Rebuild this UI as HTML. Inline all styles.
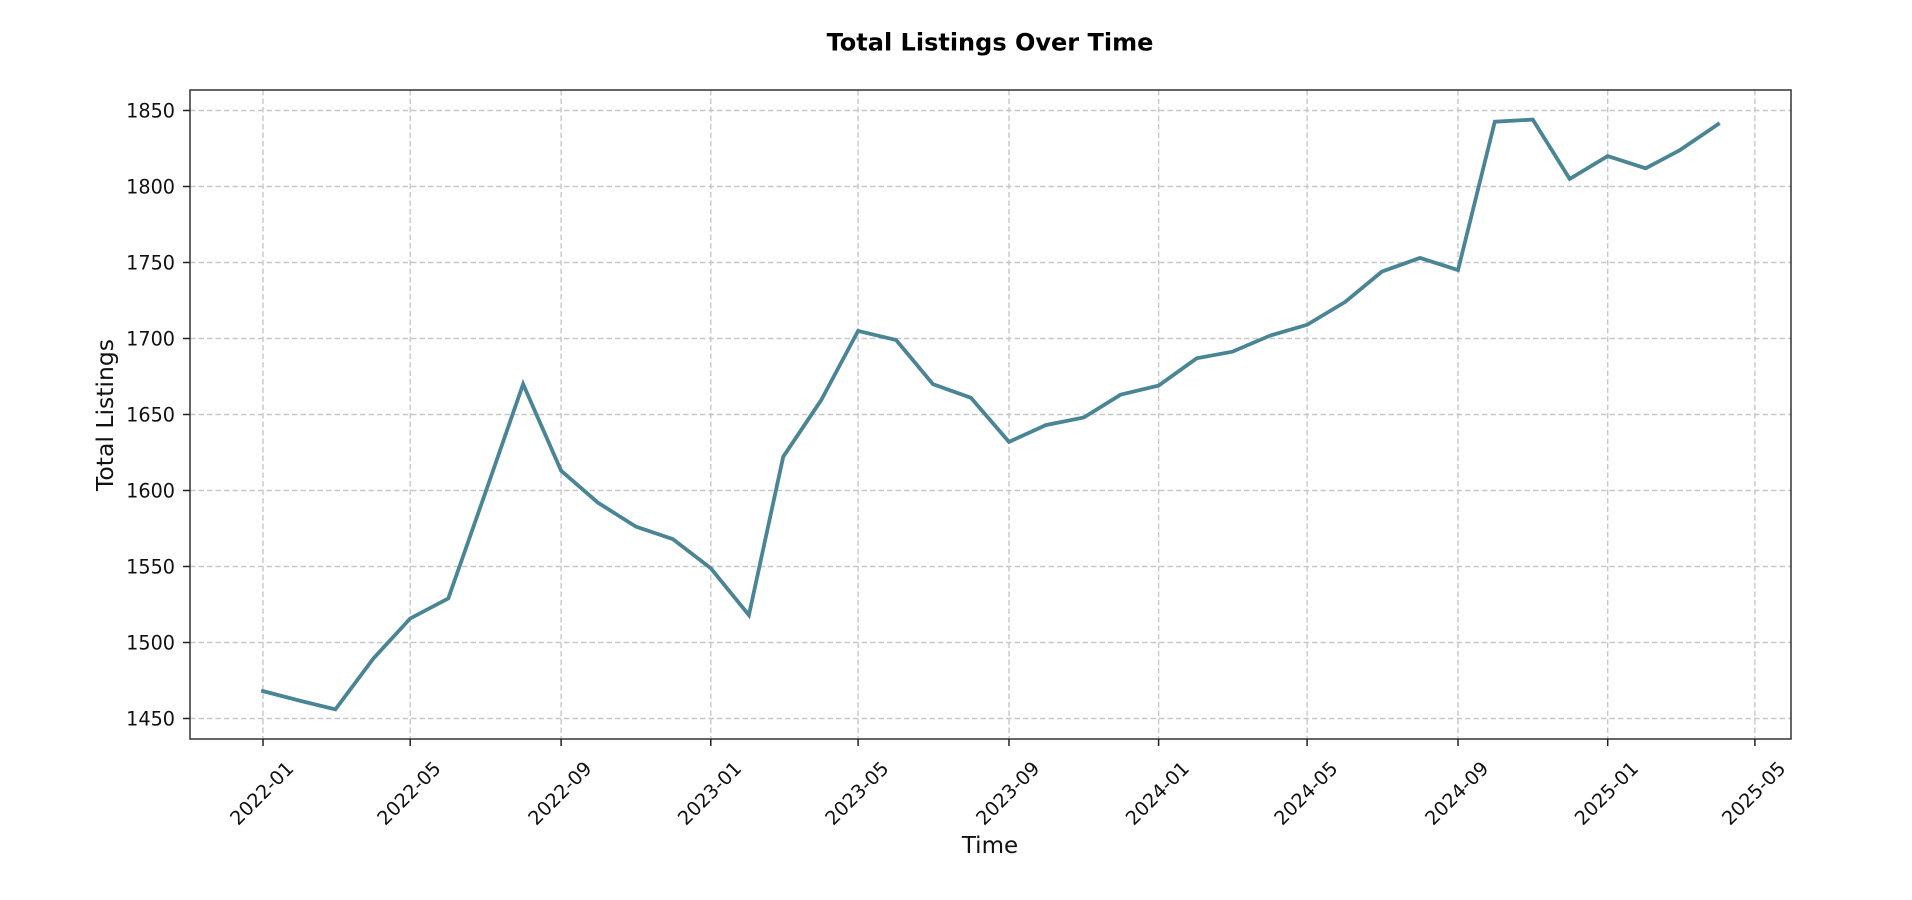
<!DOCTYPE html>
<html><head><meta charset="utf-8"><style>
html,body{margin:0;padding:0;background:#fff;}
svg{display:block;}
text{font-family:"DejaVu Sans","Liberation Sans",sans-serif;fill:#111;}
</style></head><body>
<svg width="1912" height="900" viewBox="0 0 1912 900" xmlns="http://www.w3.org/2000/svg">
<rect x="0" y="0" width="1912" height="900" fill="#fff"/>
<text x="990" y="50.5" font-size="24" font-weight="bold" text-anchor="middle" style="fill:#000">Total Listings Over Time</text>
<g stroke="#c8c8c8" stroke-width="1.4" stroke-dasharray="5.5,3" fill="none">
<line x1="190" x2="1791" y1="718.5" y2="718.5"/>
<line x1="190" x2="1791" y1="642.5" y2="642.5"/>
<line x1="190" x2="1791" y1="566.5" y2="566.5"/>
<line x1="190" x2="1791" y1="490.5" y2="490.5"/>
<line x1="190" x2="1791" y1="414.5" y2="414.5"/>
<line x1="190" x2="1791" y1="338.5" y2="338.5"/>
<line x1="190" x2="1791" y1="262.5" y2="262.5"/>
<line x1="190" x2="1791" y1="186.5" y2="186.5"/>
<line x1="190" x2="1791" y1="110.5" y2="110.5"/>
<line y1="90" y2="739" x1="263" x2="263"/>
<line y1="90" y2="739" x1="410.2" x2="410.2"/>
<line y1="90" y2="739" x1="561.1" x2="561.1"/>
<line y1="90" y2="739" x1="710.8" x2="710.8"/>
<line y1="90" y2="739" x1="858.1" x2="858.1"/>
<line y1="90" y2="739" x1="1009" x2="1009"/>
<line y1="90" y2="739" x1="1158.6" x2="1158.6"/>
<line y1="90" y2="739" x1="1307.1" x2="1307.1"/>
<line y1="90" y2="739" x1="1458" x2="1458"/>
<line y1="90" y2="739" x1="1607.7" x2="1607.7"/>
<line y1="90" y2="739" x1="1754.9" x2="1754.9"/>
</g>
<polyline fill="none" stroke="#4a8596" stroke-width="3.8" stroke-linejoin="miter" stroke-linecap="square" points="
263,691.1 301,701 335.4,709.4 373.4,658.5 410.2,618.5 448.3,598.4 485.1,493.5 523.1,384.1 561.1,470.7 598,502.7 636,526.7 672.8,539.1
710.8,568.3 748.9,615.1 783.2,456.8 821.2,400.1 858.1,330.9 896.1,340 932.9,384.1 970.9,397.8 1009,441.9 1045.8,425.1 1083.8,417.5 1120.6,394.7
1158.6,385.6 1196.7,358.3 1232.3,351.7 1270.3,335.5 1307.1,324.8 1345.1,302 1381.9,271.6 1420,257.9 1458,270.1 1494.8,121.7 1532.8,119.6 1569.7,178.9
1607.7,156.1 1645.7,168.3 1680.1,150 1718.1,124.2"/>
<rect x="190" y="90" width="1601" height="649" fill="none" stroke="#333" stroke-width="1.5"/>
<g stroke="#222" stroke-width="1.5">
<line x1="183" x2="190" y1="718.5" y2="718.5"/>
<line x1="183" x2="190" y1="642.5" y2="642.5"/>
<line x1="183" x2="190" y1="566.5" y2="566.5"/>
<line x1="183" x2="190" y1="490.5" y2="490.5"/>
<line x1="183" x2="190" y1="414.5" y2="414.5"/>
<line x1="183" x2="190" y1="338.5" y2="338.5"/>
<line x1="183" x2="190" y1="262.5" y2="262.5"/>
<line x1="183" x2="190" y1="186.5" y2="186.5"/>
<line x1="183" x2="190" y1="110.5" y2="110.5"/>
<line y1="739" y2="746" x1="263" x2="263"/>
<line y1="739" y2="746" x1="410.2" x2="410.2"/>
<line y1="739" y2="746" x1="561.1" x2="561.1"/>
<line y1="739" y2="746" x1="710.8" x2="710.8"/>
<line y1="739" y2="746" x1="858.1" x2="858.1"/>
<line y1="739" y2="746" x1="1009" x2="1009"/>
<line y1="739" y2="746" x1="1158.6" x2="1158.6"/>
<line y1="739" y2="746" x1="1307.1" x2="1307.1"/>
<line y1="739" y2="746" x1="1458" x2="1458"/>
<line y1="739" y2="746" x1="1607.7" x2="1607.7"/>
<line y1="739" y2="746" x1="1754.9" x2="1754.9"/>
</g>
<g font-size="19.2" text-anchor="end">
<text x="175" y="725.5">1450</text>
<text x="175" y="649.5">1500</text>
<text x="175" y="573.5">1550</text>
<text x="175" y="497.5">1600</text>
<text x="175" y="421.5">1650</text>
<text x="175" y="345.5">1700</text>
<text x="175" y="269.5">1750</text>
<text x="175" y="193.5">1800</text>
<text x="175" y="117.5">1850</text>
</g>
<g font-size="19.2" text-anchor="middle">
<text transform="translate(261.5,793) rotate(-45)" x="0" y="7">2022-01</text>
<text transform="translate(408.7,793) rotate(-45)" x="0" y="7">2022-05</text>
<text transform="translate(559.6,793) rotate(-45)" x="0" y="7">2022-09</text>
<text transform="translate(709.3,793) rotate(-45)" x="0" y="7">2023-01</text>
<text transform="translate(856.6,793) rotate(-45)" x="0" y="7">2023-05</text>
<text transform="translate(1007.5,793) rotate(-45)" x="0" y="7">2023-09</text>
<text transform="translate(1157.1,793) rotate(-45)" x="0" y="7">2024-01</text>
<text transform="translate(1305.6,793) rotate(-45)" x="0" y="7">2024-05</text>
<text transform="translate(1456.5,793) rotate(-45)" x="0" y="7">2024-09</text>
<text transform="translate(1606.2,793) rotate(-45)" x="0" y="7">2025-01</text>
<text transform="translate(1753.4,793) rotate(-45)" x="0" y="7">2025-05</text>
</g>
<text x="990" y="853" font-size="23" text-anchor="middle">Time</text>
<text transform="translate(113,415) rotate(-90)" x="0" y="0" font-size="23.5" text-anchor="middle">Total Listings</text>
</svg>
</body></html>
